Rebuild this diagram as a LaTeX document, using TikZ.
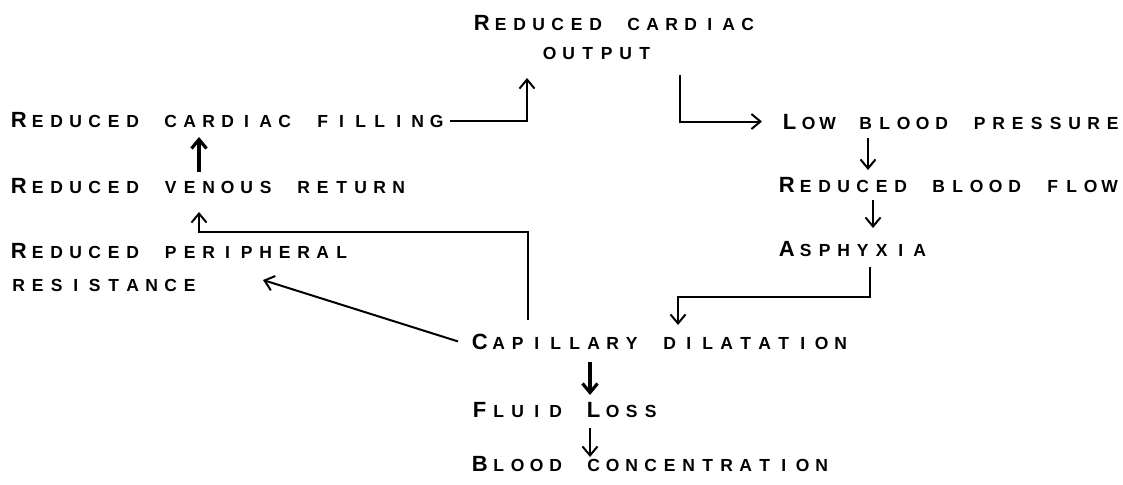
\documentclass[tikz,border=0pt]{standalone}
\usepackage{fontspec}
\setmainfont{Liberation Sans}
\newfontfamily\lrfont{Liberation Sans Bold}
\usetikzlibrary{positioning,calc,arrows.meta}
\tikzset{
  label/.style={inner sep=0pt, anchor=base west},
  arrow/.style={-{Straight Barb[length=9pt,width=15pt]}, draw=black, line width=2pt},
  heavy arrow/.style={arrow, line width=3.2pt},
}
\newcommand{\lrpitch}{19pt}
\newcommand{\lrbig}{\lrfont\fontsize{22pt}{23pt}\selectfont}
\newcommand{\lrsmall}{\lrfont\fontsize{17.5pt}{18pt}\selectfont}
% lettering: every character in a cell of fixed pitch, lower case set as small capitals
\ExplSyntaxOn
\cs_new_protected:Npn \lr_glyph:n #1
  {
    \makebox[\lrpitch]
      {
        \str_if_eq:nnF {#1} { ~ }
          {
            \int_compare:nNnTF { `#1 } < { `a }
              { \lrbig #1 }
              { \lrsmall \tex_uppercase:D {#1} }
          }
      }
  }
\NewDocumentCommand \lr { m }
  { \str_map_inline:nn {#1} { \lr_glyph:n {##1} } }
\ExplSyntaxOff

\begin{document}
\begin{tikzpicture}[x=1pt, y=-1pt]
  \useasboundingbox (0,0) rectangle (1123,484);

  % --- left column -----------------------------------------------------------
  \node[label] (filling) at (9,128) {\lr{Reduced cardiac filling}};
  \node[label] (venous) at (9,193) {\lr{Reduced venous return}};
  \node[label] (periA) at (9,258) {\lr{Reduced peripheral}};
  \node[label] (periB) at (9,291) {\lr{resistance}};

  % --- top and right column ---------------------------------------------------
  \node[label] (outA) at (472,31) {\lr{Reduced cardiac}};
  \node[label] (outB) at (540,60) {\lr{output}};
  \node[label] (low) at (780,129) {\lr{Low blood pressure}};
  \node[label] (flow) at (777,192) {\lr{Reduced blood flow}};
  \node[label] (asph) at (777,256) {\lr{Asphyxia}};

  % --- centre column ---------------------------------------------------------
  \node[label] (cap) at (470,349) {\lr{Capillary dilatation}};
  \node[label] (fluid) at (470,417) {\lr{Fluid Loss}};
  \node[label] (conc) at (470,471) {\lr{Blood concentration}};

  % --- connectors --------------------------------------------------------------
  \coordinate (outTip) at (527,78);
  \coordinate (outDrop) at (680,75);
  \coordinate (asphKnee) at (678,297);

  \draw[arrow] ([xshift=4pt]filling.east) -| (outTip);
  \draw[arrow] (outDrop) |- ([xshift=-18pt]low.west);
  \draw[arrow] ($(low.base west)+(88,9)$) -- ($(flow.base west)+(91,-22)$);
  \draw[arrow] ($(flow.base west)+(96,8)$) -- ($(asph.base west)+(96,-28)$);
  \draw[arrow] ($(asph.base west)+(93,11)$) |- (asphKnee) -- ($(cap.base west)+(208,-24)$);

  \draw[arrow] ($(cap.base west)+(58,-29)$) |- ($(venous.base west)+(190,39)$)
    -- ($(venous.base west)+(190,19)$);
  \draw[heavy arrow] ($(venous.base west)+(190,-21)$) -- ($(filling.base west)+(190,9)$);
  \draw[arrow] ([xshift=-12pt]cap.west) -- ($(periB.base west)+(254,-11)$);

  \draw[heavy arrow] ($(cap.base west)+(120,13)$) -- ($(fluid.base west)+(120,-22)$);
  \draw[arrow] ($(fluid.base west)+(120,11)$) -- ($(conc.base west)+(120,-14)$);

\end{tikzpicture}
\end{document}
